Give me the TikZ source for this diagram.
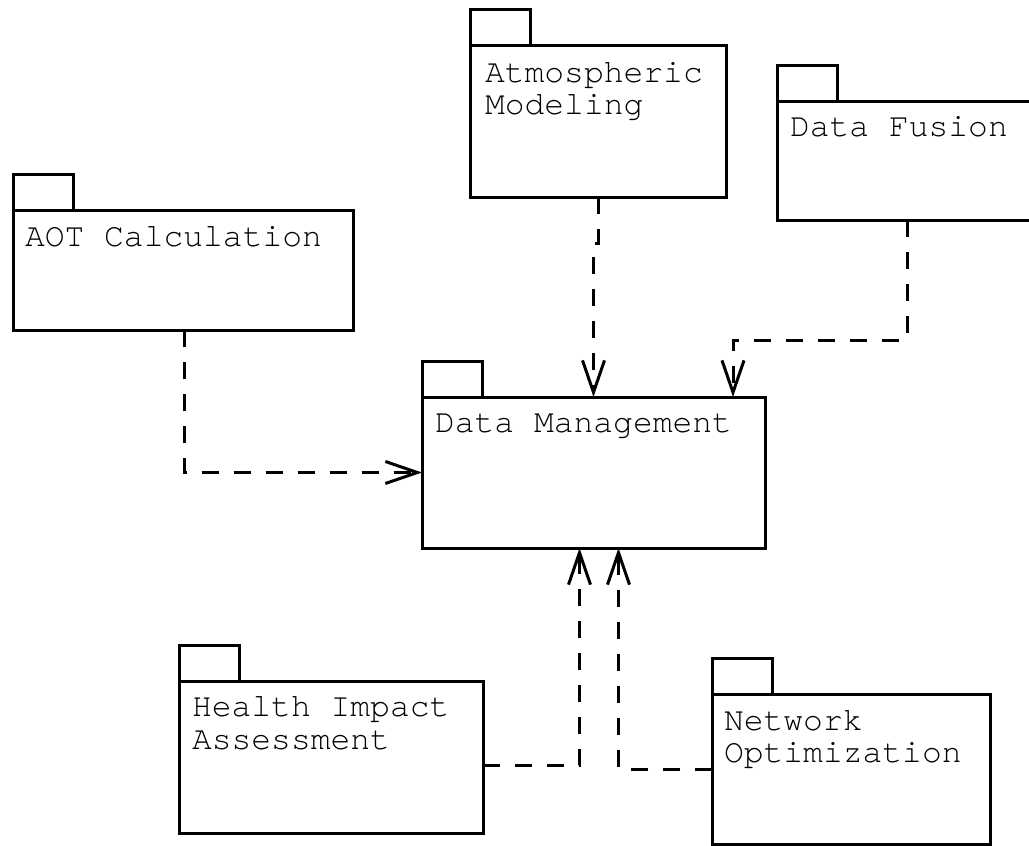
\documentclass[tikz,border=0pt]{standalone}
\usepackage{fontspec}
\newfontfamily\pkgfont{TeX Gyre Cursor}
\usetikzlibrary{arrows.meta,calc}
\begin{document}
\begin{tikzpicture}[x=1pt,y=-1pt,
  pkgbody/.style={draw, line width=3pt, rectangle, inner sep=0pt, outer sep=0pt, anchor=north west, fill=white},
  pkgtab/.style={draw, line width=3pt, rectangle, inner sep=0pt, outer sep=0pt, minimum width=60pt, minimum height=36pt, anchor=south west},
  lbl/.style={anchor=base west, inner sep=0pt, outer sep=0pt, font=\pkgfont\fontsize{33}{33}\selectfont},
  dep/.style={line width=3pt, dash pattern=on 17pt off 15pt, -{Straight Barb[length=32pt,width=22pt,line width=3pt]}}
]
\path[use as bounding box] (0,0) rectangle (1029,846);
\clip (0,0) rectangle (1029,846);

% packages
\node[pkgbody, minimum width=340pt, minimum height=120pt] (aot) at (13,210) {};
\node[pkgtab] (aottab) at (aot.north west) {};
\node[lbl] (aotlbl) at (25,246) {AOT Calculation};

\node[pkgbody, minimum width=256pt, minimum height=152pt] (atm) at (470,45) {};
\node[pkgtab] (atmtab) at (atm.north west) {};
\node[lbl] (atmlbla) at (485,82) {Atmospheric};
\node[lbl] (atmlblb) at (485,114) {Modeling};

\node[pkgbody, minimum width=260pt, minimum height=119pt] (df) at (777,101) {};
\node[pkgtab] (dftab) at (df.north west) {};
\node[lbl] (dflbl) at (790,136) {Data Fusion};

\node[pkgbody, minimum width=343pt, minimum height=151pt] (dm) at (422,397) {};
\node[pkgtab] (dmtab) at (dm.north west) {};
\node[lbl] (dmlbl) at (435,432) {Data Management};

\node[pkgbody, minimum width=304pt, minimum height=152pt] (hia) at (179,681) {};
\node[pkgtab] (hiatab) at (hia.north west) {};
\node[lbl] (hialbla) at (192,716) {Health Impact};
\node[lbl] (hialblb) at (192,749) {Assessment};

\node[pkgbody, minimum width=278pt, minimum height=150pt] (net) at (712,694) {};
\node[pkgtab] (nettab) at (net.north west) {};
\node[lbl] (netlbla) at (724,730) {Network};
\node[lbl] (netlblb) at (724,762) {Optimization};

% connector points
\coordinate (aotout) at ($(aot.south west)+(171,0)$);
\coordinate (dfin) at ($(dm.north east)+(-32,0)$);
\coordinate (dfbend) at ($(dfin)+(0,-57)$);
\coordinate (hiaout) at ($(hia.south east)+(0,-68)$);
\coordinate (dmin1) at ($(dm.south)+(-14,0)$);
\coordinate (dmin2) at ($(dm.south)+(25,0)$);

% dependencies
\draw[dep] (aotout) |- (dm.west);
\draw[dep] (atm.south) -- ++(0,46) -| (dm.north);
\draw[dep] (df.south) |- (dfbend) -- (dfin);
\draw[dep] (hiaout) -| (dmin1);
\draw[dep] (net.west) -| (dmin2);
\end{tikzpicture}
\end{document}
